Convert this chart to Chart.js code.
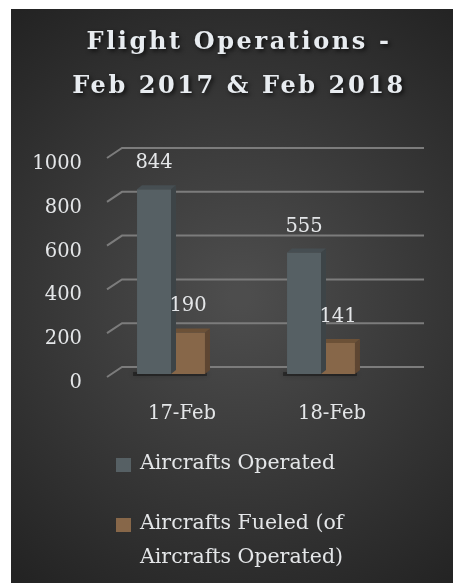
<!DOCTYPE html>
<html>
<head>
<meta charset="utf-8">
<script src="https://cdn.jsdelivr.net/npm/chart.js@4.4.1/dist/chart.umd.min.js"></script>
<style>
  html, body { margin: 0; padding: 0; background: #ffffff; }
  #wrap { position: absolute; left: 11px; top: 9px; width: 442px; height: 574px; }
</style>
</head>
<body>
<div id="wrap"><canvas id="chart_flights"></canvas></div>
<script>
var titleLines = ['Flight Operations -', 'Feb 2017 & Feb 2018'];
var categories = ['17-Feb', '18-Feb'];
var operated = [844, 555];
var fueled = [190, 141];
var seriesNames = ['Aircrafts Operated', 'Aircrafts Fueled (of Aircrafts Operated)'];
var legendLines = [['Aircrafts Operated'], ['Aircrafts Fueled (of', 'Aircrafts Operated)']];
var yMin = 0, yMax = 1000, yStep = 200;

var cores = ['#566064', '#876749'];
var sides = ['#3d4447', '#5e4632'];
var tops = ['#464e52', '#6c5137'];
var fontFamily = "'DejaVu Serif', 'Liberation Serif', serif";
var fontSize = 19.5;
var textColor = '#e4e6e8';

// fundo escuro com gradiente radial
var background = {
    id: 'background',
    beforeDraw: function(chart) {
        var ctx = chart.ctx;
        var w = chart.width, h = chart.height;
        var g = ctx.createRadialGradient(w / 2 + 8, h / 2, 10, w / 2 + 8, h / 2, 360);
        g.addColorStop(0, '#4d4d4d');
        g.addColorStop(1, '#232323');
        ctx.save();
        ctx.fillStyle = g;
        ctx.fillRect(0, 0, w, h);
        ctx.restore();
    }
};

// grade com perspectiva
var grid3d = {
    id: 'grid3d',
    beforeDatasetsDraw: function(chart) {
        var ctx = chart.ctx;
        var area = chart.chartArea;
        var y = chart.scales.y;
        ctx.save();
        ctx.strokeStyle = '#7c7c7c';
        ctx.lineWidth = 2;
        y.ticks.forEach(function(t) {
            var py = y.getPixelForValue(t.value);
            ctx.beginPath();
            ctx.moveTo(area.left + 11, py + 3);
            ctx.lineTo(area.left + 26, py - 7);
            ctx.lineTo(area.right + 28, py - 7);
            ctx.stroke();
        });
        // sombra na base das barras
        ctx.fillStyle = 'rgba(0,0,0,0.35)';
        ctx.shadowColor = 'rgba(0,0,0,0.6)';
        ctx.shadowBlur = 5;
        chart.getDatasetMeta(0).data.forEach(function(bar, j) {
            var bar2 = chart.getDatasetMeta(1).data[j];
            var l = bar.x - bar.width / 2 - 4;
            var r = bar2.x + bar2.width / 2 + 2;
            ctx.fillRect(l, bar.base - 2, r - l, 4);
        });
        ctx.restore();
    }
};

// faces laterais e topo das barras
var bars3d = {
    id: 'bars3d',
    afterDatasetDraw: function(chart, args) {
        var ctx = chart.ctx;
        var i = args.index;
        var meta = args.meta;
        var dx = 5, dy = 4;
        ctx.save();
        meta.data.forEach(function(bar) {
            var l = bar.x - bar.width / 2, r = bar.x + bar.width / 2;
            var t = bar.y, b = bar.base;
            ctx.fillStyle = sides[i];
            ctx.beginPath();
            ctx.moveTo(r, t);
            ctx.lineTo(r + dx, t - dy);
            ctx.lineTo(r + dx, b - dy);
            ctx.lineTo(r, b);
            ctx.closePath();
            ctx.fill();
            ctx.fillStyle = tops[i];
            ctx.beginPath();
            ctx.moveTo(l, t);
            ctx.lineTo(l + dx, t - dy);
            ctx.lineTo(r + dx, t - dy);
            ctx.lineTo(r, t);
            ctx.closePath();
            ctx.fill();
        });
        ctx.restore();
    }
};

// rotulos de valor, titulo e legenda
var labels = {
    id: 'labels',
    afterDraw: function(chart) {
        var ctx = chart.ctx;
        ctx.save();
        ctx.fillStyle = textColor;
        ctx.font = fontSize + 'px ' + fontFamily;
        ctx.textAlign = 'center';
        ctx.textBaseline = 'middle';
        chart.data.datasets.forEach(function(ds, i) {
            chart.getDatasetMeta(i).data.forEach(function(bar, j) {
                ctx.fillText(ds.data[j], bar.x, bar.y - 26);
            });
        });

        // legenda
        var rowY = [455, 515];
        ctx.font = '20.5px ' + fontFamily;
        ctx.textAlign = 'left';
        chart.data.datasets.forEach(function(ds, i) {
            ctx.fillStyle = ds.backgroundColor;
            ctx.fillRect(105, rowY[i] - 6, 15, 14);
            ctx.fillStyle = textColor;
            legendLines[i].forEach(function(line, k) {
                ctx.fillText(line, 129, rowY[i] + k * 34);
            });
        });

        ctx.font = 'bold 24px ' + fontFamily;
        ctx.letterSpacing = '2.6px';
        ctx.textAlign = 'center';
        ctx.textBaseline = 'alphabetic';
        ctx.shadowColor = 'rgba(0,0,0,0.7)';
        ctx.shadowBlur = 4;
        ctx.shadowOffsetX = 2;
        ctx.shadowOffsetY = 2;
        ctx.fillStyle = '#e8ecf0';
        titleLines.forEach(function(line, k) {
            ctx.fillText(line, chart.width / 2 + 7, 40 + k * 44);
        });
        ctx.restore();
    }
};

var ctx = document.getElementById('chart_flights');

var chartBar = new Chart(ctx, {
    type: 'bar',
    data: {
        labels: categories,
        datasets: [
            {
                label: seriesNames[0],
                data: operated,
                backgroundColor: cores[0],
                borderWidth: 0,
                categoryPercentage: 0.453,
                barPercentage: 1.0
            },
            {
                label: seriesNames[1],
                data: fueled,
                backgroundColor: cores[1],
                borderWidth: 0,
                categoryPercentage: 0.453,
                barPercentage: 1.0
            }
        ]
    },
    options: {
        responsive: true,
        maintainAspectRatio: false,
        animation: false,
        layout: {
            padding: { top: 146, right: 57, bottom: 149, left: 0 }
        },
        plugins: {
            title: { display: false },
            tooltip: { enabled: false },
            legend: { display: false }
        },
        scales: {
            y: {
                min: yMin,
                max: yMax,
                grid: { display: false },
                border: { display: false },
                afterFit: function(scale) { scale.width = 85; },
                ticks: {
                    stepSize: yStep,
                    padding: 6,
                    labelOffset: 9,
                    color: textColor,
                    font: { family: fontFamily, size: fontSize },
                    callback: function(value) {
                        return value;
                    }
                }
            },
            x: {
                grid: { display: false },
                border: { display: false },
                afterFit: function(scale) { scale.height = 60; },
                ticks: {
                    padding: 20,
                    labelOffset: 11,
                    color: textColor,
                    font: { family: fontFamily, size: fontSize }
                }
            }
        }
    },
    plugins: [background, grid3d, bars3d, labels]
});
</script>
</body>
</html>
